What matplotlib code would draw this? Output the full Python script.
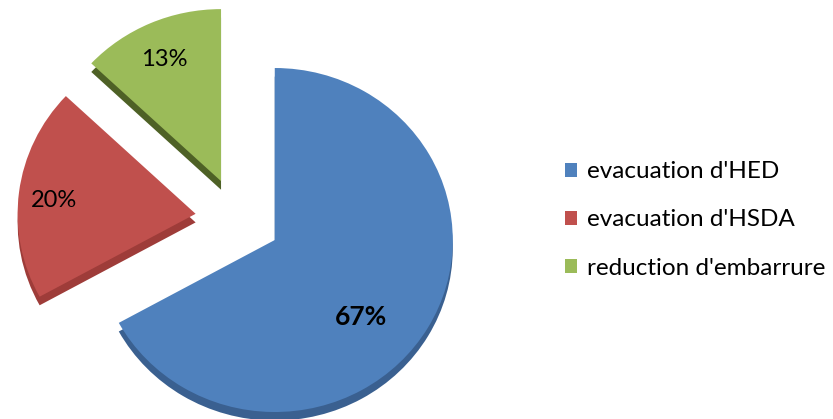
import numpy as np
import matplotlib.pyplot as plt

labels = ["evacuation d'HED", "evacuation d'HSDA", "reduction d'embarrure"]
values = [67, 20, 13]
colors = ['#4F81BD', '#C0504D', '#9BBB59']
side_colors = ['#3A6090', '#9E3C39', '#4E6126']

plt.rcParams['font.family'] = ['Lato', 'DejaVu Sans']

fig = plt.figure(figsize=(8.33, 4.19), dpi=100)
ax = fig.add_axes([0, 0, 560 / 833, 1])

explode = [0.24] * len(values)
depth = 0.05

# darker copy shifted down gives the slab its thickness
ax.pie(values, colors=side_colors, startangle=90, counterclock=False,
       explode=explode, center=(0, -depth), wedgeprops=dict(linewidth=0))

wedges, _, pcts = ax.pie(values, colors=colors, startangle=90, counterclock=False,
                         explode=explode, autopct='%1.0f%%', pctdistance=0.8,
                         wedgeprops=dict(linewidth=0),
                         textprops=dict(fontsize=17, color='black'))

# the big slice carries its label lower and bold
cx, cy = wedges[0].center
ang = np.deg2rad(-43)
pcts[0].set_position((cx + 0.66 * np.cos(ang), cy + 0.66 * np.sin(ang)))
pcts[0].set_fontweight('bold')
pcts[0].set_fontsize(19)
for t in pcts[1:]:
    x, y = t.get_position()
    t.set_position((x, y - 0.025))

ax.set_aspect('auto')
ax.set_xlim(-238 / 178, (560 - 238) / 178)
ax.set_ylim((219 - 419) / 172, 219 / 172)
ax.axis('off')

fig.legend(wedges, labels, loc='center left', bbox_to_anchor=(543 / 833, 0.475),
           frameon=False, fontsize=17.5, handlelength=0.5, handleheight=0.5,
           handletextpad=0.4, labelspacing=1.12)

fig.savefig('out.png', dpi=100)
